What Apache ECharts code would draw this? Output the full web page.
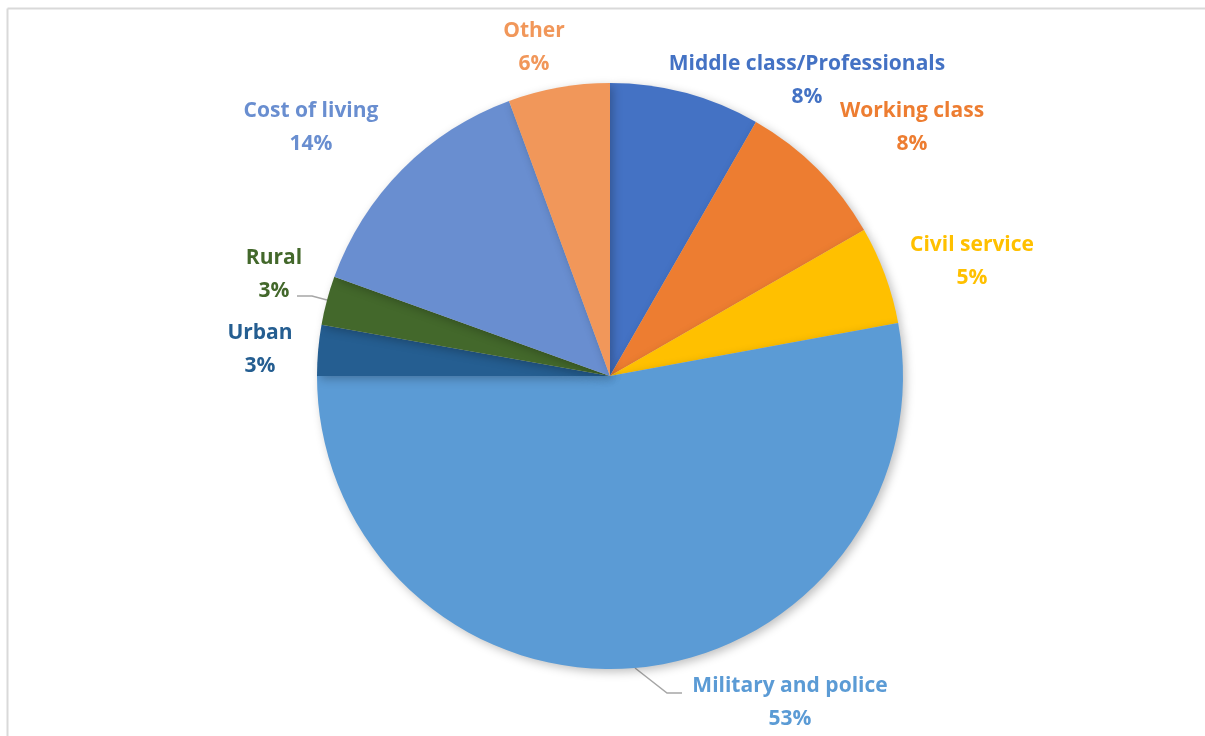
<!DOCTYPE html>
<html><head><meta charset="utf-8">
<script src="https://cdn.jsdelivr.net/npm/echarts@6/dist/echarts.min.js"></script>
<style>html,body{margin:0;padding:0;background:#fff}#c{width:1205px;height:736px}</style>
</head><body><div id="c"></div>
<script>
const categories = ['Middle class/Professionals','Working class','Civil service','Military and police','Urban','Rural','Cost of living','Other'];
const values = [8.3, 8.4, 5.4, 52.9, 2.8, 2.7, 13.9, 5.6];
const colors = ['#4472C4','#ED7D31','#FFC000','#5B9BD5','#255E91','#43682B','#698ED0','#F1975A'];
const labelColors = ['#4472C4','#ED7D31','#FFC000','#5B9BD5','#255E91','#43682B','#698ED0','#F1975A'];
// label centres (layout only)
const labelPos = [[807,81],[912,128],[972,262],[790,703],[260,350],[274,275],[311,128],[534,48]];
const leaderShown = [false,false,false,true,false,true,false,false];
const leaderPts = {3:[[635,668],[667,693],[682,693]], 5:[[327,300],[312,296],[297,296]]};

const chart = echarts.init(document.getElementById('c'));
chart.setOption({
  animation:false,
  graphic:[
    {type:'line',shape:{x1:7.5,y1:8.5,x2:1205,y2:8.5},style:{stroke:'#d9d9d9',lineWidth:2}},
    {type:'line',shape:{x1:7.5,y1:8.5,x2:7.5,y2:736},style:{stroke:'#d9d9d9',lineWidth:2}}
  ],
  series:[{
    type:'pie',
    center:[610,376],
    radius:[0,293],
    startAngle:90,
    clockwise:true,
    data: categories.map((c,i)=>({
      name:c, value:values[i],
      itemStyle:{color:colors[i]},
      label:{color:labelColors[i]},
      labelLine:{show:leaderShown[i]}
    })),
    itemStyle:{shadowBlur:10,shadowColor:'rgba(0,0,0,0.25)',shadowOffsetX:3,shadowOffsetY:3},
    label:{
      show:true,
      formatter:p=>p.name+'\n'+Math.round(p.value)+'%',
      fontFamily:'Open Sans',
      fontWeight:'bold',
      fontSize:21,
      lineHeight:33,
      align:'center'
    },
    labelLine:{length:10,length2:10,lineStyle:{color:'#a6a6a6',width:1.5}},
    labelLayout:function(p){
      const pos = labelPos[p.dataIndex];
      const r = {x:pos[0], y:pos[1], align:'center', verticalAlign:'middle'};
      if (leaderPts[p.dataIndex]) r.labelLinePoints = leaderPts[p.dataIndex];
      return r;
    }
  }]
});
</script></body></html>
